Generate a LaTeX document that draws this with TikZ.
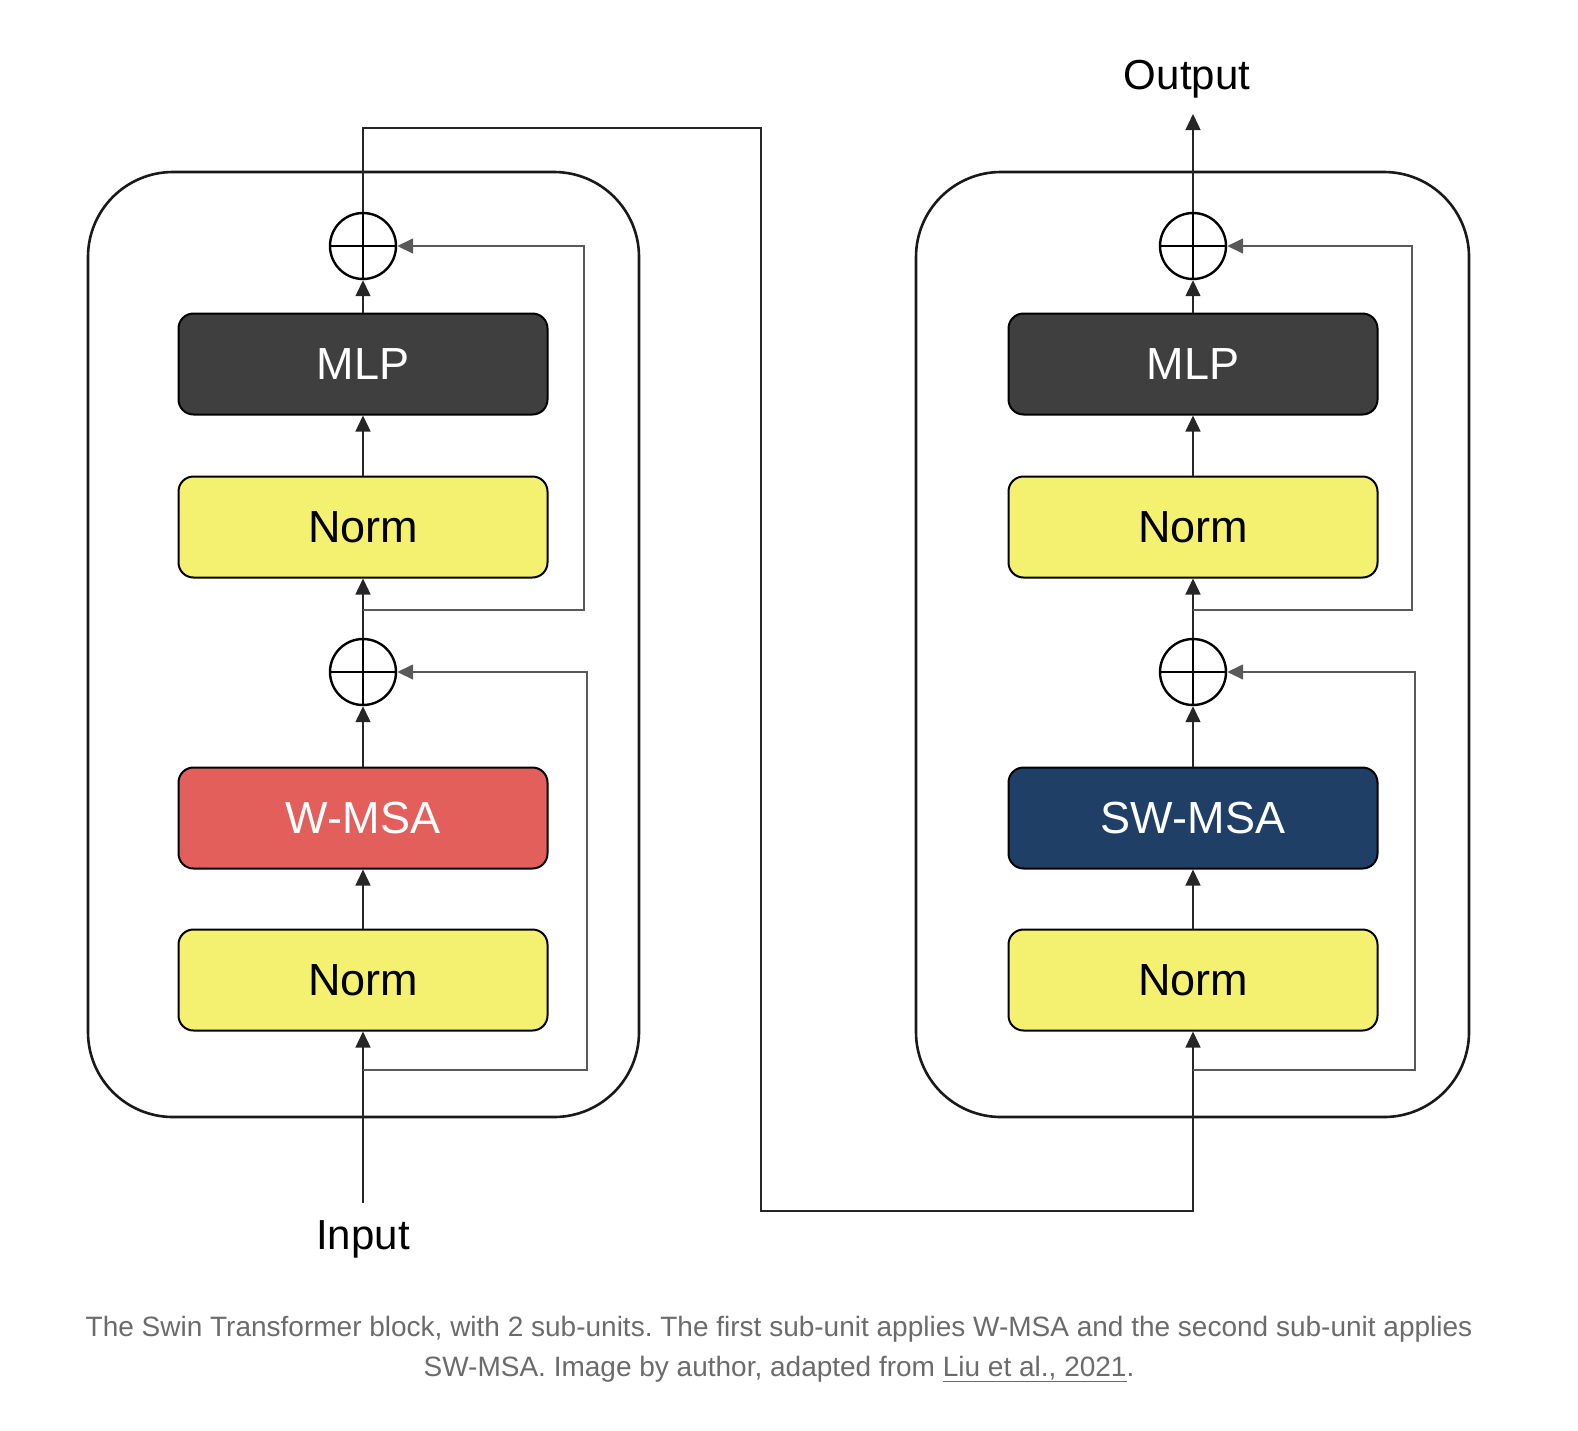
\documentclass[tikz,border=0pt]{standalone}
\usepackage{fontspec}
\setmainfont{Liberation Sans}
\newfontfamily\capfont{Liberation Sans}
\usetikzlibrary{arrows.meta}
\definecolor{mlpc}{HTML}{3F3F3F}
\definecolor{normc}{HTML}{F4F170}
\definecolor{wmsac}{HTML}{E35F5B}
\definecolor{swmsac}{HTML}{1F3F66}
\definecolor{capc}{HTML}{6B6B6B}
\tikzset{
  outer/.style={draw=black!90, line width=2.6pt, rounded corners=85pt},
  blk/.style={draw=black, line width=2pt, rounded corners=15pt, minimum width=369pt, minimum height=101pt, inner sep=0pt, font=\fontsize{45}{50}\selectfont},
  addc/.style={circle, draw=black, line width=2.4pt, minimum size=66pt, inner sep=0pt},
  conn/.style={draw=black!85, line width=1.4pt},
  skip/.style={draw=black!65, line width=1.6pt},
  arr/.style={-{Triangle[length=16pt,width=15pt]}},
  lbl/.style={font=\fontsize{42}{48}\selectfont, inner sep=0pt},
}
\begin{document}
\begin{tikzpicture}[x=1pt,y=-1pt]
\useasboundingbox (0,0) rectangle (1578,1430);
% outer frames
\draw[outer] (88,172) rectangle (639,1117);
\draw[outer] (916,172) rectangle (1469,1117);
% left unit
\node[addc] (a1) at (363,246) {};
\node[blk, fill=mlpc, text=white] (m1) at (363,364) {MLP};
\node[blk, fill=normc] (n2) at (363,527) {Norm};
\node[addc] (a2) at (363,672) {};
\node[blk, fill=wmsac, text=white] (w1) at (363,818) {W-MSA};
\node[blk, fill=normc] (n1) at (363,980) {Norm};
% right unit
\node[addc] (b1) at (1193,246) {};
\node[blk, fill=mlpc, text=white] (m2) at (1193,364) {MLP};
\node[blk, fill=normc] (q2) at (1193,527) {Norm};
\node[addc] (b2) at (1193,672) {};
\node[blk, fill=swmsac, text=white] (sw) at (1193,818) {SW-MSA};
\node[blk, fill=normc] (q1) at (1193,980) {Norm};
% labels
\node[lbl] (in) at (363,1239) {Input};
\node[lbl] (out) at (1187,79) {Output};
\coordinate (inb) at (363,1203);
\coordinate (outt) at (1193,114);
% plus signs
\foreach \c in {a1,a2,b1,b2}{
  \draw[line width=1.4pt] (\c.west) -- (\c.east);
  \draw[line width=1.4pt] (\c.north) -- (\c.south);
}
% main connectors left
\draw[conn,arr] (inb) -- (n1.south);
\draw[conn,arr] (n1.north) -- (w1.south);
\draw[conn,arr] (w1.north) -- (a2.south);
\draw[conn,arr] (a2.north) -- (n2.south);
\draw[conn,arr] (n2.north) -- (m1.south);
\draw[conn,arr] (m1.north) -- (a1.south);
% skips left
\coordinate (s1) at (363,1070);
\coordinate (s2) at (363,610);
\draw[skip,arr] (s1) -- (587,1070) |- (a2.east);
\draw[skip,arr] (s2) -- (584,610) |- (a1.east);
% bridge
\coordinate (t1) at (761,128);
\coordinate (t2) at (761,1211);
\draw[conn,arr] (a1.north) |- (t1) -- (t2) -| (q1.south);
% main connectors right
\draw[conn,arr] (q1.north) -- (sw.south);
\draw[conn,arr] (sw.north) -- (b2.south);
\draw[conn,arr] (b2.north) -- (q2.south);
\draw[conn,arr] (q2.north) -- (m2.south);
\draw[conn,arr] (m2.north) -- (b1.south);
\draw[conn,arr] (b1.north) -- (outt);
% skips right
\coordinate (r1) at (1193,1070);
\coordinate (r2) at (1193,610);
\draw[skip,arr] (r1) -- (1415,1070) |- (b2.east);
\draw[skip,arr] (r2) -- (1412,610) |- (b1.east);
% caption
\node[font=\capfont\frenchspacing\fontsize{28}{40}\selectfont, text=capc, align=center] (cap) at (779,1349)
  {The Swin Transformer block, with 2 sub-units. The first sub-unit applies W-MSA and the second sub-unit applies\\
   SW-MSA. Image by author, adapted from \underline{Liu et al., 2021}.};
\end{tikzpicture}
\end{document}
